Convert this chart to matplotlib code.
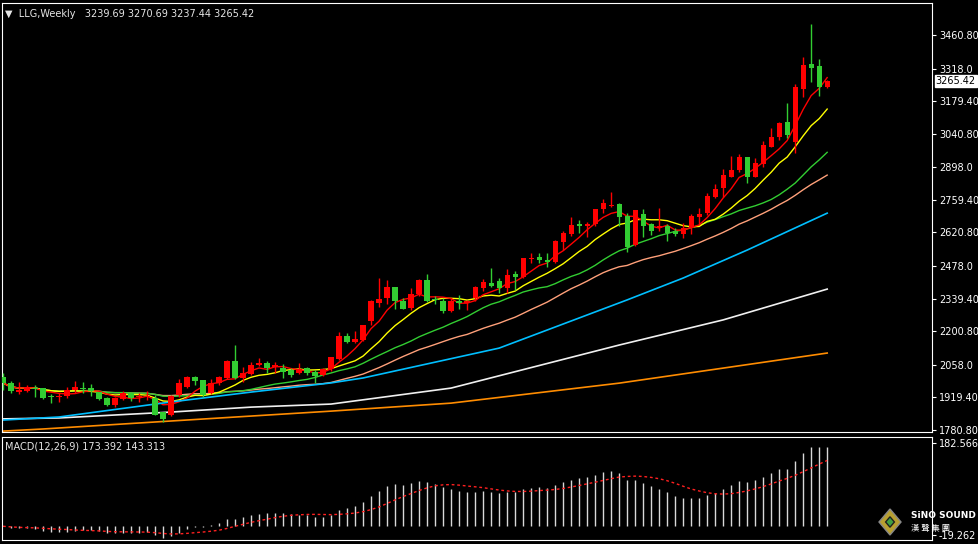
import numpy as np
import pandas as pd
import matplotlib
matplotlib.use("Agg")
import matplotlib.pyplot as plt
from matplotlib.patches import Polygon

opens = [2006.2,1980.7,1942.4,1946.7,1959.4,1959.4,1925.4,1921.2,1925.4,1950.9,
         1959.4,1959.4,1942.4,1916.9,1887.1,1912.7,1938.2,1921.2,1921.2,1916.9,
         1857.4,1844.6,1929.7,1963.7,2006.2,1993.5,1938.2,1980.7,2002.0,2074.3,
         2002.0,2019.0,2057.3,2065.8,2048.8,2044.5,2036.0,2023.2,2044.5,2027.5,
         2014.7,2040.2,2082.8,2180.6,2155.1,2163.6,2244.4,2320.9,2342.2,2389.0,
         2329.5,2299.7,2359.2,2418.7,2338.0,2329.5,2287.0,2329.5,2320.9,2342.2,
         2384.8,2406.0,2414.1,2384.8,2444.3,2431.6,2508.1,2516.6,2503.8,2495.4,
         2580.4,2614.5,2657.0,2648.5,2657.0,2720.8,2733.5,2742.0,2691.1,2567.7,
         2699.6,2657.0,2640.0,2648.5,2627.2,2614.5,2640.0,2686.8,2703.8,2771.8,
         2810.1,2857.9,2886.6,2941.9,2857.9,2912.1,2984.4,3027.0,3090.8,3005.7,
         3231.1,3337.5,3328.9,3239.69]
closes = [1980.7,1946.7,1950.9,1963.7,1955.2,1916.9,1921.2,1925.4,1950.9,1963.7,
          1955.2,1946.7,1912.7,1887.1,1916.9,1938.2,1916.9,1925.4,1925.4,1844.6,
          1827.6,1925.4,1980.7,2006.2,1989.2,1929.7,1980.7,2006.2,2074.3,2002.0,
          2023.2,2057.3,2065.8,2044.5,2057.3,2027.5,2014.7,2040.2,2023.2,2010.5,
          2040.2,2091.3,2180.6,2155.1,2167.8,2227.4,2329.5,2338.0,2389.0,2329.5,
          2295.4,2359.2,2418.7,2329.5,2333.7,2287.0,2329.5,2321.0,2329.5,2389.0,
          2410.2,2393.2,2384.8,2440.1,2431.6,2512.3,2512.3,2503.8,2495.4,2584.7,
          2618.7,2652.7,2648.5,2657.0,2720.8,2746.3,2737.8,2686.8,2559.2,2716.6,
          2648.5,2627.2,2648.5,2618.7,2614.5,2640.0,2691.1,2699.6,2776.1,2805.6,
          2865.4,2886.6,2941.9,2857.9,2917.5,2993.0,3027.0,3086.5,3035.5,3239.6,
          3333.2,3320.5,3239.6,3265.42]
highs = [2023.2,1989.2,1985.0,1972.2,1972.2,1959.4,1933.9,1938.2,1963.7,1989.2,
         1985.0,1976.5,1942.4,1921.2,1921.2,1946.7,1942.4,1938.2,1946.7,1929.7,
         1857.4,1929.7,1997.7,2010.5,2010.5,1993.5,1997.7,2010.5,2078.5,2142.5,
         2048.8,2070.0,2087.5,2074.3,2070.0,2061.5,2044.5,2065.8,2048.8,2036.0,
         2044.5,2091.3,2197.6,2193.4,2201.9,2227.4,2333.7,2427.3,2418.7,2389.0,
         2342.2,2384.8,2423.0,2444.3,2350.7,2342.2,2342.2,2355.0,2333.7,2393.2,
         2423.0,2469.8,2427.3,2465.5,2457.0,2512.3,2533.6,2533.6,2533.6,2588.9,
         2627.2,2686.8,2674.0,2665.5,2720.8,2763.4,2793.1,2746.3,2703.8,2716.6,
         2720.8,2661.3,2725.1,2657.0,2640.0,2661.3,2699.6,2725.1,2788.9,2827.2,
         2890.9,2946.2,2954.7,2941.9,2937.7,3010.0,3065.2,3090.8,3171.6,3252.4,
         3367.2,3507.6,3358.7,3270.69]
lows = [1950.9,1938.2,1933.9,1942.4,1921.2,1912.7,1895.6,1899.9,1916.9,1938.2,
        1938.2,1925.4,1908.4,1882.9,1878.6,1908.4,1904.1,1899.9,1908.4,1844.6,
        1814.8,1840.3,1921.2,1959.4,1972.2,1921.2,1933.9,1972.2,1997.7,1997.7,
        1985.0,2014.7,2053.0,2023.2,2023.2,2002.0,2006.2,2019.0,2014.7,1980.7,
        2010.5,2031.8,2078.5,2150.9,2150.9,2159.3,2227.4,2303.9,2316.7,2295.4,
        2295.4,2291.2,2350.7,2325.2,2316.7,2278.4,2282.7,2295.4,2291.2,2329.5,
        2372.0,2389.0,2363.4,2363.4,2376.3,2427.3,2491.1,2491.1,2474.1,2491.1,
        2546.4,2606.0,2618.7,2601.7,2648.5,2703.8,2729.3,2648.5,2537.9,2563.5,
        2601.7,2610.2,2627.2,2584.7,2606.0,2597.5,2614.5,2657.0,2695.3,2767.6,
        2771.8,2857.9,2878.1,2832.3,2857.9,2899.4,2984.4,3014.2,3022.7,2958.9,
        3197.1,3261.0,3201.4,3237.44]

# long moving averages (bar index, price)
ma60_idx = [0, 7, 21, 31, 41, 45, 62, 78, 85, 93, 103]
ma60_val = [1823.0, 1836.0, 1900.0, 1942.0, 1981.0, 2002.0, 2129.0, 2334.0, 2427.0, 2546.0, 2703.0]
ma120_idx = [0, 7, 21, 31, 41, 56, 77, 90, 103]
ma120_val = [1828.0, 1832.0, 1857.0, 1878.0, 1891.0, 1959.0, 2142.0, 2249.0, 2380.0]
ma240_idx = [0, 5, 21, 31, 41, 56, 77, 90, 103]
ma240_val = [1776.0, 1785.0, 1819.0, 1840.0, 1861.0, 1895.0, 1980.0, 2044.0, 2108.0]

price_ticks = [1780.8, 1919.4, 2058.0, 2200.8, 2339.4, 2478.0, 2620.8,
               2759.4, 2898.0, 3040.8, 3179.4, 3318.0, 3460.8]
price_labels = ["1780.80", "1919.40", "2058.0", "2200.80", "2339.40", "2478.0", "2620.80",
                "2759.40", "2898.0", "3040.80", "3179.40", "3318.0", "3460.80"]

W, H = 979, 544
fig = plt.figure(figsize=(W/100, H/100), dpi=100, facecolor="black")
ax = fig.add_axes([2/W, 1-432/H, 930/W, 429/H], facecolor="black")
axm = fig.add_axes([2/W, 4/H, 930/W, 103/H], facecolor="black")

n = len(closes)
x = np.arange(n)
o = np.array(opens); c = np.array(closes); hi = np.array(highs); lo = np.array(lows)
up = c >= o
col = np.where(up, "#ff0000", "#32cd32")

s = pd.Series(c)
for per, cl in [(30, "#ffa07a"), (20, "#32cd32"), (10, "#ffff00"), (5, "#ff0000")]:
    ax.plot(x, s.rolling(per, min_periods=1).mean(), color=cl, lw=1.0, zorder=2)
ax.plot(ma240_idx, ma240_val, color="#ff8c00", lw=1.2, zorder=2)
ax.plot(ma120_idx, ma120_val, color="#f0f0f0", lw=1.2, zorder=2)
ax.plot(ma60_idx, ma60_val, color="#00bfff", lw=1.2, zorder=2)

ax.vlines(x, lo, hi, colors=col, lw=1, zorder=3)
body_h = np.maximum(np.abs(c - o), 4)
body_b = np.minimum(o, c)
ax.bar(x, body_h, bottom=body_b, width=0.65, color=col, zorder=4)

ax.set_xlim(-0.125, 116.1)
ax.set_ylim(1772.2, 3596.9)
for a in (ax, axm):
    for sp in a.spines.values():
        sp.set_color("white")
    a.tick_params(axis="x", bottom=False, labelbottom=False)
    a.yaxis.tick_right()
    a.tick_params(axis="y", colors="white", labelsize=7, length=3, pad=2)
ax.set_yticks(price_ticks)
ax.set_yticklabels(price_labels)

# current price tag
ax.text(1.004, (3265.42-1772.2)/(3596.9-1772.2), "3265.42", transform=ax.transAxes,
        fontsize=7, color="black", va="center", ha="left",
        bbox=dict(boxstyle="square,pad=0.1", fc="white", ec="white"))

ax.text(0.003, 0.985, "▼  LLG,Weekly   3239.69 3270.69 3237.44 3265.42",
        transform=ax.transAxes, color="#e6e6e6", fontsize=7, va="top", ha="left")

# MACD
ema12 = s.ewm(span=12, adjust=False).mean()
ema26 = s.ewm(span=26, adjust=False).mean()
macd = ema12 - ema26
sig = macd.rolling(9, min_periods=1).mean()
axm.vlines(x, 0, macd, colors="#d8d8d8", lw=1)
axm.plot(x, sig, color="#ff2020", lw=1, ls=(0, (2, 2)))
axm.set_xlim(-0.125, 116.1)
axm.set_ylim(-30.1, 195.6)
axm.set_yticks([182.566, -19.262])
axm.set_yticklabels(["182.566", "-19.262"])
axm.text(0.003, 0.96, "MACD(12,26,9) 173.392 143.313", transform=axm.transAxes,
         color="#e6e6e6", fontsize=7, va="top", ha="left")

# logo
lx, ly = 890/W, 1-522/H
dx, dy = 11/W, 13/H
fig.patches.append(Polygon([[lx-dx, ly], [lx, ly+dy], [lx+dx, ly], [lx, ly-dy]],
                           closed=True, transform=fig.transFigure, fc="#b8a030", ec="#888888", zorder=10))
fig.patches.append(Polygon([[lx-dx/2.5, ly], [lx, ly+dy/2.5], [lx+dx/2.5, ly], [lx, ly-dy/2.5]],
                           closed=True, transform=fig.transFigure, fc="#40a040", ec="#202020", zorder=11))
fig.text(911/W, 1-516/H, "SiNO SOUND", color="white", fontsize=6.5, fontweight="bold",
         va="center", ha="left", zorder=12)
fig.text(911/W, 1-528/H, "漢 聲 集 團", color="white", fontsize=6,
         family="Noto Sans CJK TC", va="center", ha="left", zorder=12)

fig.savefig("out.png", dpi=100, facecolor="black")
